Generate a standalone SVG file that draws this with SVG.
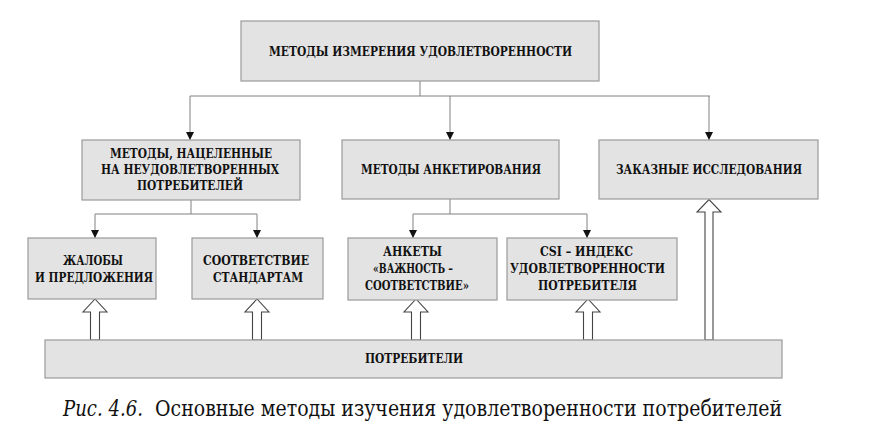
<svg xmlns="http://www.w3.org/2000/svg" width="886" height="447" viewBox="0 0 886 447">
<style>
.box{fill:#e3e3e3;stroke:#9a9a9a;stroke-width:1.2}
.t{font-family:'DejaVu Serif','Liberation Serif',serif;font-weight:bold;font-size:12px;fill:#111}
.ln{fill:none;stroke:#808080;stroke-width:1}
.hol{fill:#fff;stroke:#444;stroke-width:1.1}
.cap{font-family:'DejaVu Serif','Liberation Serif',serif;font-size:22px;fill:#111}
</style>
<defs>
<marker id="ah" viewBox="0 0 10 10" refX="10" refY="5" markerWidth="8" markerHeight="8" markerUnits="userSpaceOnUse" orient="auto">
<path d="M0,0 L10,5 L0,10 Z" fill="#111"/>
</marker>
</defs>
<rect width="886" height="447" fill="#fff"/>

<g id="connectors">
<path class="ln" d="M420,81 V96 M190,96 H710"/>
<path class="ln" d="M190,96 V140" marker-end="url(#ah)"/>
<path class="ln" d="M450,96 V140" marker-end="url(#ah)"/>
<path class="ln" d="M709,96 V140" marker-end="url(#ah)"/>
<path class="ln" d="M191,200 V214 M95,214 H257"/>
<path class="ln" d="M95,214 V238" marker-end="url(#ah)"/>
<path class="ln" d="M257,214 V238" marker-end="url(#ah)"/>
<path class="ln" d="M450,199 V214 M413,214 H587"/>
<path class="ln" d="M413,214 V238" marker-end="url(#ah)"/>
<path class="ln" d="M587,214 V238" marker-end="url(#ah)"/>
<path class="hol" d="M90.5,340 V312 H83 L95,299 L107,312 H99.5 V340 Z"/>
<path class="hol" d="M252.5,340 V312 H245 L257,299 L269,312 H261.5 V340 Z"/>
<path class="hol" d="M411.5,340 V312 H404 L416,299 L428,312 H420.5 V340 Z"/>
<path class="hol" d="M583.5,340 V312 H576 L588,299 L600,312 H592.5 V340 Z"/>
<path class="hol" d="M705,340 V212 H697 L709,199.5 L721,212 H713 V340 Z"/>
</g>

<g id="top">
<rect class="box" x="241" y="21" width="358" height="60"/>
<text class="t" x="269" y="56" font-size="13" textLength="303" lengthAdjust="spacingAndGlyphs">МЕТОДЫ ИЗМЕРЕНИЯ УДОВЛЕТВОРЕННОСТИ</text>
</g>

<g id="unsatisfied">
<rect class="box" x="82" y="140" width="218" height="60"/>
<text class="t" x="110" y="158" textLength="162" lengthAdjust="spacingAndGlyphs">МЕТОДЫ, НАЦЕЛЕННЫЕ</text>
<text class="t" x="101" y="174" textLength="178" lengthAdjust="spacingAndGlyphs">НА НЕУДОВЛЕТВОРЕННЫХ</text>
<text class="t" x="137" y="190" textLength="106" lengthAdjust="spacingAndGlyphs">ПОТРЕБИТЕЛЕЙ</text>
</g>

<g id="survey">
<rect class="box" x="342" y="140" width="217" height="59"/>
<text class="t" x="361" y="174" textLength="180" lengthAdjust="spacingAndGlyphs">МЕТОДЫ АНКЕТИРОВАНИЯ</text>
</g>

<g id="custom">
<rect class="box" x="599" y="140" width="219" height="59"/>
<text class="t" x="616" y="174" textLength="186" lengthAdjust="spacingAndGlyphs">ЗАКАЗНЫЕ ИССЛЕДОВАНИЯ</text>
</g>

<g id="complaints">
<rect class="box" x="28" y="238" width="128" height="61"/>
<text class="t" x="63" y="265" textLength="60" lengthAdjust="spacingAndGlyphs">ЖАЛОБЫ</text>
<text class="t" x="35" y="282" textLength="118" lengthAdjust="spacingAndGlyphs">И ПРЕДЛОЖЕНИЯ</text>
</g>

<g id="standards">
<rect class="box" x="192" y="238" width="131" height="61"/>
<text class="t" x="203" y="265" textLength="106" lengthAdjust="spacingAndGlyphs">СООТВЕТСТВИЕ</text>
<text class="t" x="213" y="282" textLength="90" lengthAdjust="spacingAndGlyphs">СТАНДАРТАМ</text>
</g>

<g id="questionnaires">
<rect class="box" x="348" y="238" width="149" height="62"/>
<text class="t" x="383" y="256" textLength="59" lengthAdjust="spacingAndGlyphs">АНКЕТЫ</text>
<text class="t" x="373" y="273" textLength="80" lengthAdjust="spacingAndGlyphs">«ВАЖНОСТЬ –</text>
<text class="t" x="365" y="290" textLength="104" lengthAdjust="spacingAndGlyphs">СООТВЕТСТВИЕ»</text>
</g>

<g id="csi">
<rect class="box" x="507" y="238" width="170" height="62"/>
<text class="t" x="540" y="256" textLength="93" lengthAdjust="spacingAndGlyphs">CSI – ИНДЕКС</text>
<text class="t" x="510" y="273" textLength="155" lengthAdjust="spacingAndGlyphs">УДОВЛЕТВОРЕННОСТИ</text>
<text class="t" x="538" y="290" textLength="99" lengthAdjust="spacingAndGlyphs">ПОТРЕБИТЕЛЯ</text>
</g>

<g id="consumers">
<rect class="box" x="45" y="340" width="737" height="38"/>
<text class="t" x="365" y="363" textLength="98" lengthAdjust="spacingAndGlyphs">ПОТРЕБИТЕЛИ</text>
</g>

<g id="caption">
<text class="cap" x="63" y="416" font-style="italic" textLength="80" lengthAdjust="spacingAndGlyphs">Рис. 4.6.</text>
<text class="cap" x="155" y="416" textLength="627" lengthAdjust="spacingAndGlyphs">Основные методы изучения удовлетворенности потребителей</text>
</g>
</svg>
